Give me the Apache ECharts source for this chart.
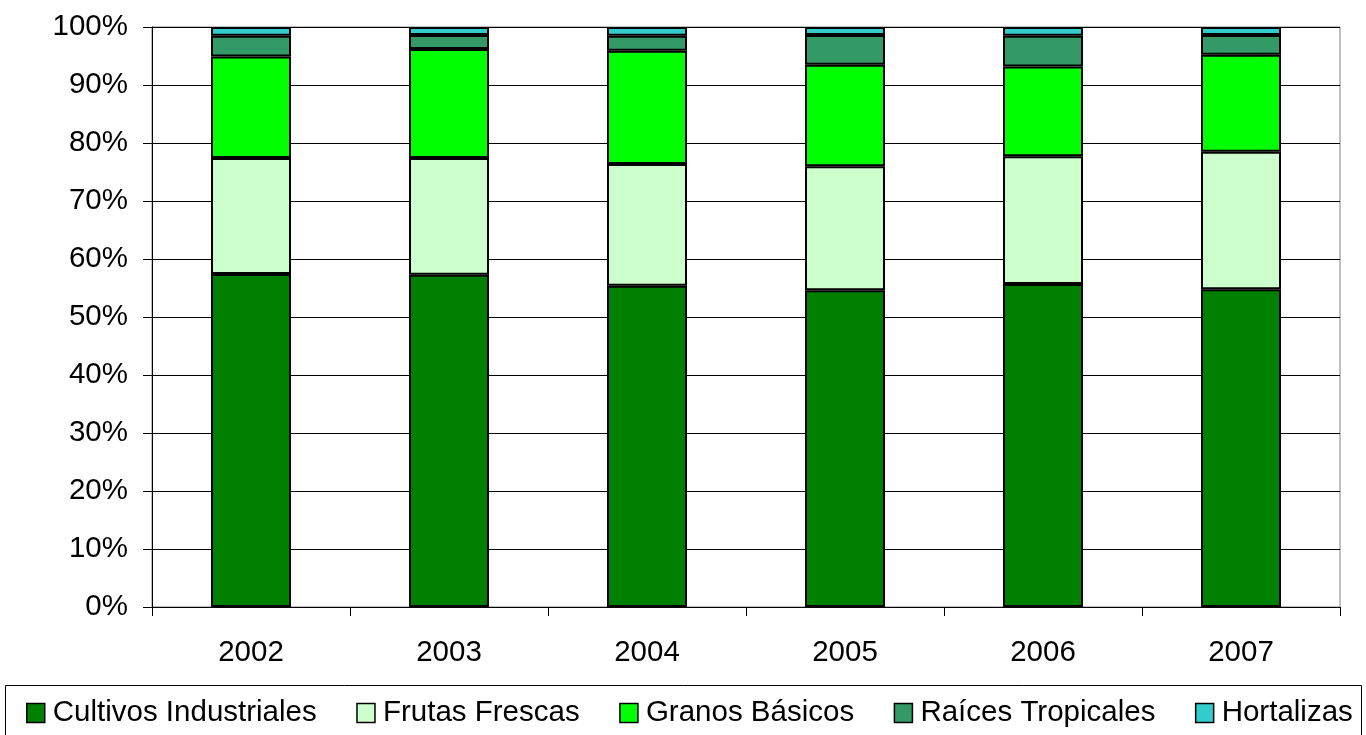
<!DOCTYPE html>
<html>
<head>
<meta charset="utf-8">
<script src="https://cdn.jsdelivr.net/npm/echarts@6/dist/echarts.min.js"></script>
<style>
html,body{margin:0;padding:0;background:#fff;}
#chart{width:1366px;height:735px;}
</style>
</head>
<body>
<div id="chart"></div>
<script>
const years = ['2002','2003','2004','2005','2006','2007'];
const cultivosIndustriales = [57.4, 57.3, 55.4, 54.6, 55.7, 54.8];
const frutasFrescas = [20.0, 20.1, 21.0, 21.4, 22.0, 23.7];
const granosBasicos = [17.5, 18.8, 19.5, 17.5, 15.5, 16.7];
const raicesTropicales = [3.6, 2.4, 2.6, 5.1, 5.3, 3.4];
const hortalizas = [1.5, 1.4, 1.5, 1.4, 1.5, 1.4];
const yTicks = [0,10,20,30,40,50,60,70,80,90,100];

const seriesDefs = [
  ['Cultivos Industriales', cultivosIndustriales, '#008000'],
  ['Frutas Frescas', frutasFrescas, '#CCFFCC'],
  ['Granos Básicos', granosBasicos, '#00FF00'],
  ['Raíces Tropicales', raicesTropicales, '#339966'],
  ['Hortalizas', hortalizas, '#33CCCC']
];

const FONT = '"Liberation Sans", Arial, sans-serif';
const FS = 29.5;
const chart = echarts.init(document.getElementById('chart'), null, {renderer:'canvas'});
chart.setOption({
  animation: false,
  backgroundColor: '#fff',
  grid: {left:152, right:26, top:27, bottom:128, show:true, borderColor:'#808080', borderWidth:1, backgroundColor:'transparent'},
  xAxis: {
    type:'category', data: years,
    axisLine:{lineStyle:{color:'#000', width:1}},
    axisTick:{show:true, length:9, lineStyle:{color:'#000'}},
    axisLabel:{color:'#000', fontFamily:FONT, fontSize:FS, margin:31}
  },
  yAxis: {
    type:'value', min:yTicks[0], max:yTicks[yTicks.length-1], interval:10,
    axisLine:{show:true, lineStyle:{color:'#000', width:1}},
    axisTick:{show:true, length:9, lineStyle:{color:'#000'}},
    splitLine:{show:true, lineStyle:{color:'#000', width:1}},
    axisLabel:{color:'#000', fontFamily:FONT, fontSize:FS, margin:24, formatter:'{value}%'}
  },
  legend: {
    left:26, top:698, padding:0, itemGap:39.5, itemWidth:18, itemHeight:19,
    icon:'rect',
    itemStyle:{borderColor:'#000', borderWidth:1.5},
    textStyle:{color:'#000', fontFamily:FONT, fontSize:FS, lineHeight:30, padding:[0,0,0,3]},
    data: seriesDefs.map(s => s[0])
  },
  graphic: [{
    type:'rect', shape:{x:5.5, y:685.5, width:1356, height:60},
    style:{fill:'none', stroke:'#000', lineWidth:1}, z:-1
  }],
  series: seriesDefs.map(s => ({
    name: s[0], type:'bar', stack:'total', barWidth:80, data: s[1],
    itemStyle:{color:s[2], borderColor:'#000', borderWidth:2}
  }))
});
</script>
</body>
</html>
